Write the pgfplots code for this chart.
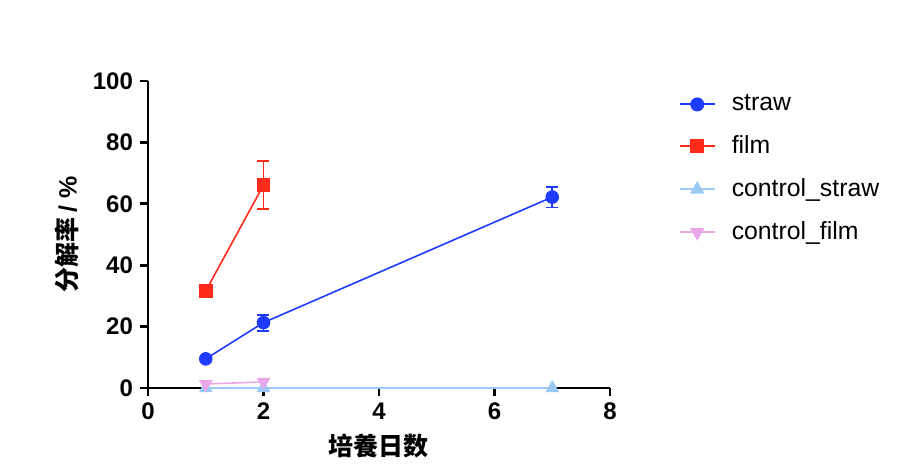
\documentclass[border=0pt]{standalone}
\usepackage{pgfplots}
\pgfplotsset{compat=1.18}
\usepackage{fontspec}
\setmainfont{Liberation Sans}
\newfontfamily\cjk{Noto Sans CJK SC}
\definecolor{cstraw}{HTML}{1F3BFF}
\definecolor{cfilm}{HTML}{FF2A1A}
\definecolor{ccstraw}{HTML}{9CC8F5}
\definecolor{ccfilm}{HTML}{E8A8E8}
\begin{document}
\begin{tikzpicture}
\path[use as bounding box] (-74pt,-42.5pt) rectangle (375.5pt,194pt);
\begin{axis}[
  at={(0,0)}, anchor=south west,
  scale only axis, width=231pt, height=153.5pt,
  xmin=0, xmax=8, ymin=0, ymax=100,
  xtick={0,2,4,6,8}, ytick={0,20,40,60,80,100},
  axis lines*=left,
  axis line style={line width=1.4pt},
  tick style={line width=1.4pt, black},
  tick align=outside, major tick length=4pt,
  clip=false,
  /pgf/number format/assume math mode=true,
  tick label style={font=\fontsize{12}{14}\selectfont\bfseries},
  xlabel={\cjk\bfseries 培養日数},
  ylabel={\cjk\bfseries 分解率 \rmfamily/ \%},
  label style={font=\fontsize{12.5}{15}\selectfont},
  legend style={at={(1.135,0.982)}, anchor=north west, draw=none, fill=none,
    font=\fontsize{12.4}{15}\selectfont, row sep=7pt,
    /tikz/every odd column/.style={column sep=6pt}},
  legend cell align=left,
  legend image code/.code={\draw[line width=1pt, mark repeat=2,mark phase=2] plot coordinates {(0pt,0pt) (8.75pt,0pt) (17.5pt,0pt)};},
  every axis plot/.append style={line width=0.8pt},
]
\addplot[color=cstraw, mark=*, mark size=3pt,
  error bars/y dir=both, error bars/y explicit,
  error bars/error bar style={draw=cstraw, line width=0.9pt},
  error bars/error mark options={rotate=90, mark size=3pt, line width=0.9pt, draw=cstraw}]
  coordinates {(1,9.5) +- (0,0) (2,21.3) +- (0,2.6) (7,62.2) +- (0,3.4)};
\addlegendentry{straw}
\addplot[color=cfilm, mark=square*, mark size=3pt,
  error bars/y dir=both, error bars/y explicit,
  error bars/error bar style={draw=cfilm, line width=0.9pt},
  error bars/error mark options={rotate=90, mark size=3pt, line width=0.9pt, draw=cfilm}]
  coordinates {(1,31.6) +- (0,0) (2,66.1) +- (0,7.9)};
\addlegendentry{film}
\addplot[color=ccstraw, mark=triangle*, mark size=3.2pt]
  coordinates {(1,0) (2,0) (7,0)};
\addlegendentry{control\_straw}
\addplot[color=ccfilm, mark=triangle*, mark options={rotate=180}, mark size=3.2pt]
  coordinates {(1,1.3) (2,2.0)};
\addlegendentry{control\_film}
\end{axis}
\end{tikzpicture}
\end{document}
